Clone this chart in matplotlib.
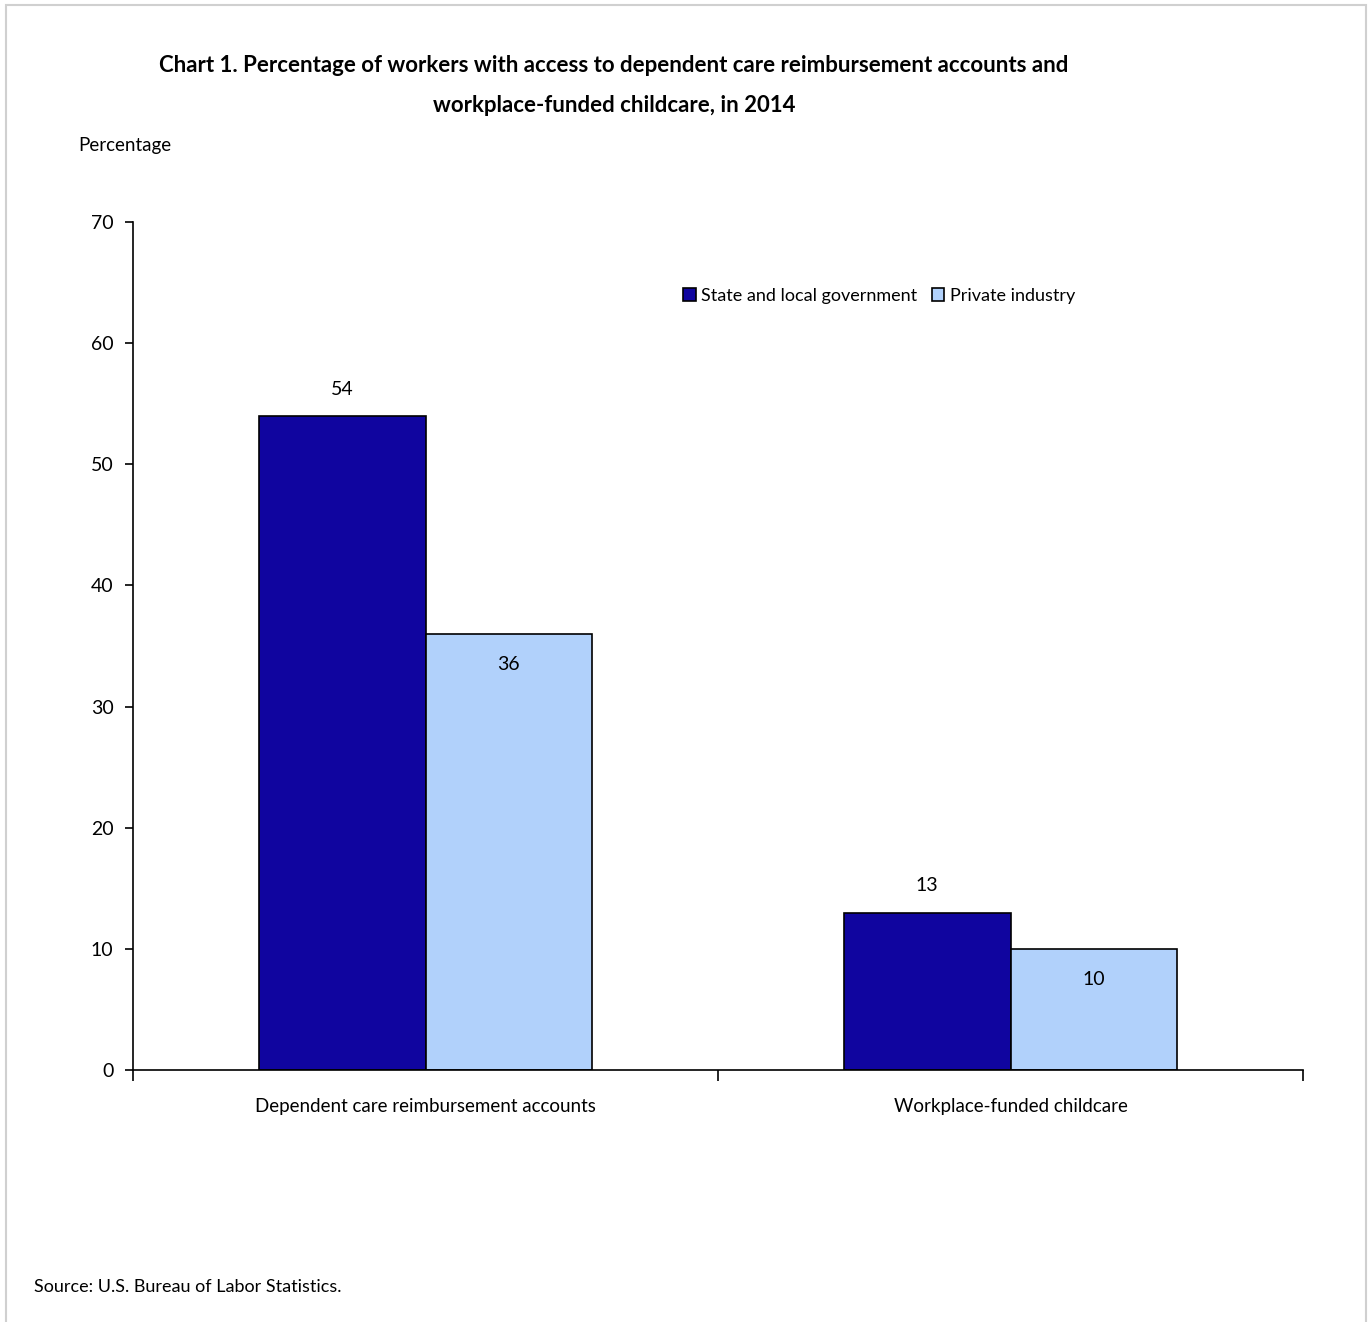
import numpy as np
import matplotlib.pyplot as plt
from matplotlib.patches import Rectangle

categories = ["Dependent care reimbursement accounts", "Workplace-funded childcare"]
series_names = ["State and local government", "Private industry"]
state_local = [54, 13]
private = [36, 10]
y_ticks = [0, 10, 20, 30, 40, 50, 60, 70]

plt.rcParams['font.family'] = ['Lato', 'DejaVu Sans']

W, H = 1368, 1322
fig = plt.figure(figsize=(W / 100, H / 100), dpi=100)
ax = fig.add_axes([133 / W, 1 - 1070 / H, (1303 - 133) / W, (1070 - 222) / H])

x = np.arange(len(categories))
bw = 0.285
dark = "#10059f"
light = "#b1d1fb"
b1 = ax.bar(x - bw / 2, state_local, bw, color=dark, edgecolor="black", linewidth=1.2,
            label=series_names[0], zorder=2)
b2 = ax.bar(x + bw / 2, private, bw, color=light, edgecolor="black", linewidth=1.2,
            label=series_names[1], zorder=2)

# data labels: dark above, light inside the top
for r, v in zip(b1, state_local):
    ax.annotate(str(v), (r.get_x() + r.get_width() / 2, v), xytext=(0, 13),
                textcoords="offset points", ha="center", va="bottom", fontsize=14)
for r, v in zip(b2, private):
    ax.annotate(str(v), (r.get_x() + r.get_width() / 2, v), xytext=(0, -16),
                textcoords="offset points", ha="center", va="top", fontsize=14)

ax.set_xlim(-0.5, len(categories) - 0.5)
ax.set_ylim(0, 70)
ax.set_yticks(y_ticks)
ax.tick_params(axis="y", labelsize=14, length=6, width=1.2, pad=8)
ax.set_xticks(x)
ax.set_xticklabels(categories, fontsize=13.5)
ax.tick_params(axis="x", which="major", length=0, pad=20)
ax.set_xticks(np.arange(len(categories) + 1) - 0.5, minor=True)
ax.tick_params(axis="x", which="minor", length=8, width=1.2)

for s in ["top", "right"]:
    ax.spines[s].set_visible(False)
for s in ["left", "bottom"]:
    ax.spines[s].set_linewidth(1.2)

leg = ax.legend(ncol=2, frameon=False, fontsize=13, loc="center",
                bbox_to_anchor=((879 - 133) / (1303 - 133), (1070 - 296) / (1070 - 222)),
                handlelength=0.7, handleheight=0.7, handletextpad=0.3, columnspacing=0.8)

fig.text(614 / W, 1 - 66 / H, "Chart 1. Percentage of workers with access to dependent care reimbursement accounts and",
         ha="center", va="center", fontsize=16, fontweight="bold")
fig.text(614 / W, 1 - 106 / H, "workplace-funded childcare, in 2014",
         ha="center", va="center", fontsize=16, fontweight="bold")
fig.text(78 / W, 1 - 146 / H, "Percentage", ha="left", va="center", fontsize=13.5)
fig.text(34 / W, 1 - 1287 / H, "Source: U.S. Bureau of Labor Statistics.", ha="left", va="center", fontsize=13)

fig.patches.append(Rectangle((6 / W, -0.01), (1366 - 6) / W, 1 - 5 / H + 0.01,
                             transform=fig.transFigure, fill=False, edgecolor="#d0d0d0", linewidth=1.5))

fig.savefig("out.png", dpi=100)
